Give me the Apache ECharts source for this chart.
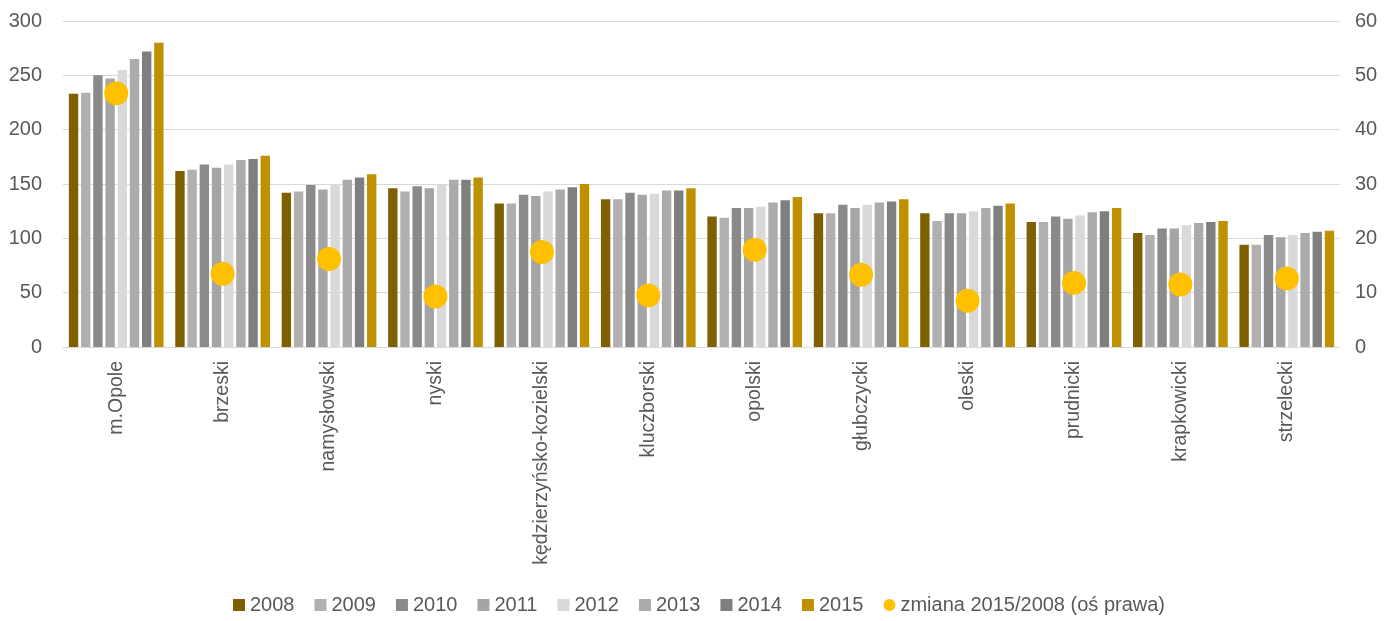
<!DOCTYPE html>
<html>
<head>
<meta charset="utf-8">
<script src="https://cdn.jsdelivr.net/npm/echarts@6/dist/echarts.min.js"></script>
<style>
html,body{margin:0;padding:0;background:#fff;}
#c{width:1398px;height:621px;}
</style>
</head>
<body>
<div id="c"></div>
<script>
const categories = ['m.Opole','brzeski','namysłowski','nyski','kędzierzyńsko-kozielski','kluczborski','opolski','głubczycki','oleski','prudnicki','krapkowicki','strzelecki'];
const years = ['2008','2009','2010','2011','2012','2013','2014','2015'];
const v2008 = [233,162,142,146,132,136,120,123,123,115,105,94];
const v2009 = [234,163,143,143,132,136,119,123,116,115,103,94];
const v2010 = [250,168,149,148,140,142,128,131,123,120,109,103];
const v2011 = [247,165,145,146,139,140,128,128,123,118,109,101];
const v2012 = [255,168,150,150,143,141,129,131,125,121,112,103];
const v2013 = [265,172,154,154,145,144,133,133,128,124,114,105];
const v2014 = [272,173,156,154,147,144,135,134,130,125,115,106];
const v2015 = [280,176,159,156,150,146,138,136,132,128,116,107];
const change = [46.7,13.5,16.2,9.3,17.5,9.5,17.9,13.3,8.5,11.8,11.5,12.6];
const changeName = 'zmiana 2015/2008 (oś prawa)';
const yearValues = [v2008,v2009,v2010,v2011,v2012,v2013,v2014,v2015];
const yearColors = ['#7F6000','#B0B0B0','#8A8A8A','#A5A5A5','#D9D9D9','#ABABAB','#7F7F7F','#BF9000'];

const font = '"Liberation Sans", Arial, sans-serif';
const txt = '#595959';

const series = years.map((y,i)=>({
  name: y, type: 'bar', yAxisIndex: 0,
  data: yearValues[i],
  barGap: '30%', barCategoryGap: '11%',
  itemStyle: {color: yearColors[i]}
}));
series.push({
  name: changeName, type: 'scatter', yAxisIndex: 1,
  data: change, symbolSize: 24, z: 5,
  itemStyle: {color: '#FFC000', opacity: 1}
});

const chart = echarts.init(document.getElementById('c'), null, {renderer:'canvas'});
chart.setOption({
  animation: false,
  textStyle: {fontFamily: font, color: txt},
  grid: {left: 63, right: 58, top: 21, bottom: 274, containLabel: false},
  legend: {
    bottom: 1, left: 'center',
    itemWidth: 12, itemHeight: 12, itemGap: 20,
    textStyle: {fontFamily: font, fontSize: 20, color: txt},
    data: years.map(y=>({name:y, icon:'rect'})).concat([{name: changeName, icon: 'circle'}])
  },
  xAxis: {
    type: 'category', data: categories,
    axisLine: {lineStyle: {color: '#D9D9D9', width: 1}},
    axisTick: {show: false},
    axisLabel: {rotate: 90, fontSize: 19.5, color: txt, fontFamily: font, margin: 14, interval: 0}
  },
  yAxis: [
    {type: 'value', min: 0, max: 300, interval: 50,
     axisLine: {show: false}, axisTick: {show: false},
     axisLabel: {fontSize: 20, color: txt, fontFamily: font, margin: 21},
     splitLine: {lineStyle: {color: '#D9D9D9', width: 1}}},
    {type: 'value', min: 0, max: 60, interval: 10, position: 'right',
     axisLine: {show: false}, axisTick: {show: false},
     axisLabel: {fontSize: 20, color: txt, fontFamily: font, margin: 15},
     splitLine: {show: false}}
  ],
  series: series
});
</script>
</body>
</html>
